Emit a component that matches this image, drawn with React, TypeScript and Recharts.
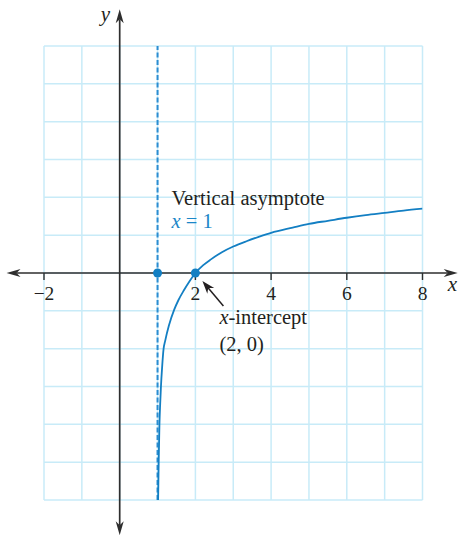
import React from "react";
import { LineChart, Line, XAxis, YAxis, CartesianGrid, ReferenceLine, ReferenceDot } from "recharts";

// Curve with vertical asymptote x = 1
const curveX = [1.015, 1.03, 1.05, 1.07, 1.09, 1.12, 1.16, 1.2, 1.3, 1.44, 1.55, 1.7, 1.85, 2, 2.2, 2.41, 2.7, 3, 3.35, 3.69, 4, 4.57, 5, 5.5, 6, 6.5, 7, 7.5, 8];
const curveY = [-6, -5, -4, -3.45, -3, -2.5, -2, -1.8, -1.39, -0.97, -0.72, -0.45, -0.21, 0, 0.2, 0.36, 0.55, 0.7, 0.84, 0.96, 1.06, 1.2, 1.3, 1.38, 1.46, 1.53, 1.59, 1.65, 1.7];

const gridX = [-2, -1, 0, 1, 2, 3, 4, 5, 6, 7, 8];
const gridY = [-6, -5, -4, -3, -2, -1, 0, 1, 2, 3, 4, 5, 6];
const tickValues = [-2, 2, 4, 6, 8];
const tickLabels = ["\u22122", "2", "4", "6", "8"];
const asymptoteX = 1;
const markedPoints = [
  { x: 1, y: 0 },
  { x: 2, y: 0 },
];

const data = curveX.map((x, i) => ({ x, y: curveY[i] }));

const FONT = "'Liberation Serif', 'DejaVu Serif', serif";
const BLUE = "#137fc3";
const AXIS = "#2e2e2e";
const GRID = "#c8ebf8";

function arrowHead(tx: number, ty: number, fx: number, fy: number, len = 14, hw = 4, notch = 10) {
  const dx = tx - fx;
  const dy = ty - fy;
  const d = Math.sqrt(dx * dx + dy * dy) || 1;
  const ux = dx / d;
  const uy = dy / d;
  const px = -uy;
  const py = ux;
  const bx = tx - ux * len;
  const by = ty - uy * len;
  const nx = tx - ux * notch;
  const ny = ty - uy * notch;
  return `${tx},${ty} ${bx + px * hw},${by + py * hw} ${nx},${ny} ${bx - px * hw},${by - py * hw}`;
}

const AxisShape = (p: any) => {
  const { x1, y1, x2, y2 } = p;
  const dx = x2 - x1;
  const dy = y2 - y1;
  const d = Math.sqrt(dx * dx + dy * dy) || 1;
  const ux = dx / d;
  const uy = dy / d;
  return (
    <g>
      <line
        x1={x1 + ux * 10}
        y1={y1 + uy * 10}
        x2={x2 - ux * 10}
        y2={y2 - uy * 10}
        stroke={AXIS}
        strokeWidth={1.7}
      />
      <polygon points={arrowHead(x1, y1, x2, y2)} fill={AXIS} />
      <polygon points={arrowHead(x2, y2, x1, y1)} fill={AXIS} />
    </g>
  );
};

export default function App() {
  return (
    <div style={{ position: "absolute", left: 0, top: 0, background: "#fff" }}>
      <LineChart
        width={460}
        height={535}
        data={data}
        margin={{ top: 46, right: 37.5, bottom: 35, left: 44 }}
      >
        <XAxis type="number" dataKey="x" domain={[-2, 8]} hide allowDataOverflow />
        <YAxis type="number" domain={[-6, 6]} hide allowDataOverflow />
        <CartesianGrid
          stroke={GRID}
          strokeWidth={1.5}
          verticalValues={gridX}
          horizontalValues={gridY}
        />
        <ReferenceLine
          x={asymptoteX}
          stroke="#2a8dd2"
          strokeWidth={2}
          strokeDasharray="5 2.5"
        />
        <ReferenceLine
          segment={[{ x: -2.99, y: 0 }, { x: 8.93, y: 0 }]}
          ifOverflow="visible"
          shape={AxisShape}
        />
        <ReferenceLine
          segment={[{ x: 0, y: 6.97 }, { x: 0, y: -6.93 }]}
          ifOverflow="visible"
          shape={AxisShape}
        />
        {tickValues.map((v, i) => (
          <ReferenceDot
            key={"t" + v}
            x={v}
            y={0}
            ifOverflow="visible"
            shape={(p: any) => (
              <g>
                <line x1={p.cx} y1={p.cy} x2={p.cx} y2={p.cy + 7} stroke={AXIS} strokeWidth={1.4} />
                <text
                  x={p.cx}
                  y={p.cy + 27}
                  textAnchor="middle"
                  fontFamily={FONT}
                  fontSize={19.5}
                  fill="#231f20"
                >
                  {tickLabels[i]}
                </text>
              </g>
            )}
          />
        ))}
        <Line
          type="monotone"
          dataKey="y"
          stroke={BLUE}
          strokeWidth={1.8}
          dot={false}
          activeDot={false}
          isAnimationActive={false}
        />
        {markedPoints.map((pt) => (
          <ReferenceDot
            key={"m" + pt.x}
            x={pt.x}
            y={pt.y}
            r={4.5}
            fill={BLUE}
            stroke="none"
            ifOverflow="visible"
          />
        ))}
        {/* annotations anchored at the asymptote point (1, 0) */}
        <ReferenceDot
          x={1}
          y={0}
          ifOverflow="visible"
          shape={(p: any) => (
            <g fontFamily={FONT} fontSize={20.5}>
              <text x={p.cx + 14} y={p.cy - 68} fill="#231f20">
                Vertical asymptote
              </text>
              <text x={p.cx + 14} y={p.cy - 45} fill="#1a86c8">
                <tspan fontStyle="italic">x</tspan>
                <tspan> = 1</tspan>
              </text>
            </g>
          )}
        />
        {/* annotations anchored at the x-intercept (2, 0) */}
        <ReferenceDot
          x={2}
          y={0}
          ifOverflow="visible"
          shape={(p: any) => (
            <g fontFamily={FONT} fontSize={20.5} fill="#231f20">
              <line
                x1={p.cx + 28}
                y1={p.cy + 33}
                x2={p.cx + 12}
                y2={p.cy + 14}
                stroke="#231f20"
                strokeWidth={1.5}
              />
              <polygon
                points={arrowHead(p.cx + 7, p.cy + 8, p.cx + 28, p.cy + 33, 13, 4.5, 9)}
                fill="#231f20"
              />
              <text x={p.cx + 24} y={p.cy + 51}>
                <tspan fontStyle="italic">x</tspan>
                <tspan>-intercept</tspan>
              </text>
              <text x={p.cx + 24} y={p.cy + 78}>
                (2, 0)
              </text>
            </g>
          )}
        />
        {/* axis names anchored at the origin */}
        <ReferenceDot
          x={0}
          y={0}
          ifOverflow="visible"
          shape={(p: any) => (
            <g fontFamily={FONT} fontSize={21} fontStyle="italic" fill="#231f20">
              <text x={p.cx - 19} y={p.cy - 252}>
                y
              </text>
              <text x={p.cx + 328} y={p.cy + 18}>
                x
              </text>
            </g>
          )}
        />
      </LineChart>
    </div>
  );
}
